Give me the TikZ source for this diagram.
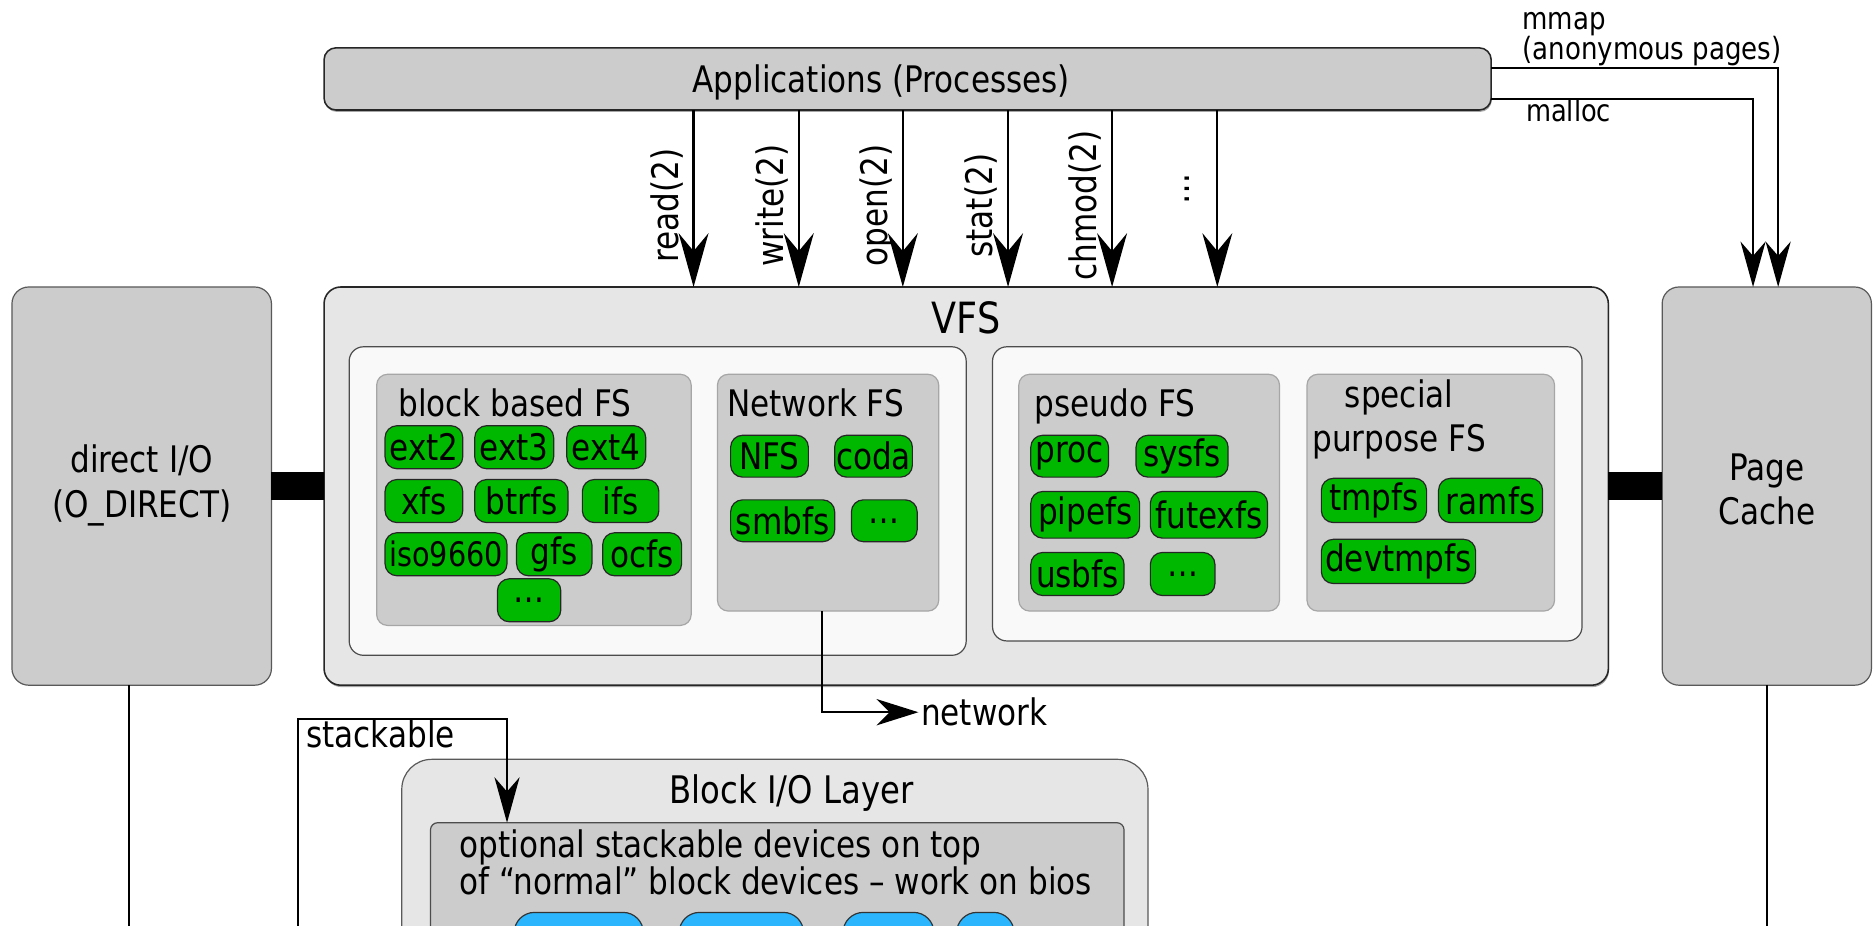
\documentclass[tikz,border=0pt]{standalone}
\usepackage{fontspec}
\setmainfont{DejaVu Sans}[FakeStretch=0.85]
\usetikzlibrary{arrows.meta,shadows}
\definecolor{boxgray}{HTML}{CCCCCC}
\definecolor{vfsgray}{HTML}{E6E6E6}
\definecolor{lightbg}{HTML}{F9F9F9}
\definecolor{fsgreen}{RGB}{0,184,0}
\definecolor{devblue}{RGB}{42,181,252}
\newcommand{\fsz}[2]{\fontsize{\dimexpr #1pt*20/17\relax}{#2pt}\selectfont}
\tikzset{
  basebox/.style={inner sep=0pt, outer sep=0pt},
  softshadow/.style={drop shadow={shadow xshift=0.6pt, shadow yshift=-1.6pt, fill=black, opacity=0.35}},
  graybox/.style={basebox, draw=black!65, fill=boxgray, rounded corners=14pt, line width=1pt},
  layerbox/.style={basebox, draw=black!85, fill=vfsgray, rounded corners=14pt, line width=1.3pt},
  lightbox/.style={basebox, draw=black!70, fill=lightbg, rounded corners=12pt, line width=1pt},
  subbox/.style={basebox, draw=black!35, fill=boxgray, rounded corners=9pt, line width=1pt},
  fsnode/.style={basebox, draw=black!85, fill=fsgreen, rounded corners=10pt, line width=1pt, minimum height=36pt, font=\fsz{26}{30}},
  devnode/.style={basebox, draw=black!80, fill=devblue, rounded corners=17pt, line width=1pt, minimum height=70pt},
  txt/.style={inner sep=0pt, font=\fsz{26}{30}},
  syscall/.style={-{Stealth[length=45pt,width=25pt,inset=15pt]}, line width=1.8pt},
  conn/.style={-{Stealth[length=38pt,width=21pt,inset=12pt]}, line width=1.8pt},
  netconn/.style={-{Stealth[length=35pt,width=22pt,inset=11pt]}, line width=1.8pt},
  thinline/.style={line width=1.8pt},
  thickbar/.style={line width=24pt},
}
\begin{document}
\begin{tikzpicture}[x=1pt,y=-1pt]
\fill[white] (0,0) rectangle (1568,774);
\useasboundingbox (0,0) rectangle (1568,774);
\clip (0,0) rectangle (1568,774);

% top: applications
\node[graybox, softshadow, draw=black!85, line width=1.3pt, rounded corners=10pt, minimum width=976pt, minimum height=52pt] (apps) at (759,66) {};
\node[txt, anchor=base] (appst) at (737,77) {Applications (Processes)};

% side boxes
\node[graybox, minimum width=217pt, minimum height=333pt] (dio) at (118.5,406.5) {};
\node[txt, align=center, font=\fsz{26}{37}] (diot) at (118.5,406) {direct I/O\\(O\_DIRECT)};
\node[graybox, minimum width=175pt, minimum height=333pt] (pc) at (1477.5,406.5) {};
\node[txt, align=center, font=\fsz{26}{37}] (pct) at (1477.5,409) {Page\\Cache};

% VFS
\node[layerbox, softshadow, minimum width=1074pt, minimum height=333pt] (vfs) at (808,406.5) {};
\node[txt, anchor=base, font=\fsz{30.6}{34}] (vfst) at (808,279) {VFS};
\node[lightbox, minimum width=516pt, minimum height=258pt] (lbox) at (550,419) {};
\node[lightbox, minimum width=493pt, minimum height=246pt] (rbox) at (1076.5,413) {};

% block based FS
\node[subbox, minimum width=263pt, minimum height=210pt] (bbfs) at (446.5,418) {};
\node[txt, anchor=base west] (bbfst) at (333,348) {block based FS};
\node[fsnode, minimum width=65pt] (ext2) at (354.5,374) {ext2};
\node[fsnode, minimum width=66pt] (ext3) at (430,374) {ext3};
\node[fsnode, minimum width=66pt] (ext4) at (507,374) {ext4};
\node[fsnode, minimum width=65pt] (xfs) at (354.5,419) {xfs};
\node[fsnode, minimum width=78pt] (btrfs) at (436,419) {btrfs};
\node[fsnode, minimum width=64pt] (ifs) at (519,419) {ifs};
\node[fsnode, minimum width=102pt, font=\fsz{24}{28}] (iso) at (373,463.5) {iso9660};
\node[fsnode, minimum width=63pt] (gfs) at (463.5,463.5) {gfs};
\node[fsnode, minimum width=66pt] (ocfs) at (537,463.5) {ocfs};
\node[fsnode, minimum width=53pt] (bdots) at (442.5,502) {…};

% network FS
\node[subbox, minimum width=185pt, minimum height=198pt] (nfsb) at (692.5,412) {};
\node[txt, anchor=base west] (nfsbt) at (608,348) {Network FS};
\node[fsnode, minimum width=65pt, minimum height=35pt] (nfs) at (643.5,381.5) {NFS};
\node[fsnode, minimum width=65pt, minimum height=35pt] (coda) at (730.5,381.5) {coda};
\node[fsnode, minimum width=87pt, minimum height=35pt] (smbfs) at (654.5,435.5) {smbfs};
\node[fsnode, minimum width=55pt, minimum height=35pt] (ndots) at (739.5,435.5) {…};

% pseudo FS
\node[subbox, minimum width=218pt, minimum height=198pt] (pfs) at (961,412) {};
\node[txt, anchor=base west] (pfst) at (865,348) {pseudo FS};
\node[fsnode, minimum width=65pt, minimum height=35pt] (proc) at (894.5,381.5) {proc};
\node[fsnode, minimum width=77pt, minimum height=35pt] (sysfs) at (988.5,381.5) {sysfs};
\node[fsnode, minimum width=91pt, minimum height=39pt] (pipefs) at (907.5,430.5) {pipefs};
\node[fsnode, minimum width=98pt, minimum height=39pt] (futexfs) at (1011,430.5) {futexfs};
\node[fsnode, minimum width=78pt] (usbfs) at (901,480) {usbfs};
\node[fsnode, minimum width=54pt] (pdots) at (989,480) {…};

% special purpose FS
\node[subbox, minimum width=207pt, minimum height=198pt] (spfs) at (1196.5,412) {};
\node[txt, align=center, font=\fsz{26}{37}] (spfst) at (1170,351) {special\\purpose FS};
\node[fsnode, minimum width=88pt, minimum height=37pt] (tmpfs) at (1149,418.5) {tmpfs};
\node[fsnode, minimum width=87pt, minimum height=37pt] (ramfs) at (1246.5,418.5) {ramfs};
\node[fsnode, minimum width=129pt, minimum height=37pt] (devtmpfs) at (1169.5,469.5) {devtmpfs};

% block I/O layer
\node[layerbox, line width=1pt, draw=black!65, rounded corners=25pt, minimum width=624pt, minimum height=200pt] (blk) at (648,735) {};
\node[txt, anchor=base, font=\fsz{27}{30}] (blkt) at (662,672) {Block I/O Layer};
\node[subbox, draw=black!70, rounded corners=6pt, minimum width=580pt, minimum height=150pt] (blkin) at (650,763) {};
\node[txt, anchor=north west, align=left, font=\fsz{26}{27}] (blkint) at (384,694) {optional stackable devices on top\\of “normal” block devices – work on bios};
\node[devnode, minimum width=108pt] (dev1) at (484,798) {};
\node[devnode, minimum width=104pt] (dev2) at (620,798) {};
\node[devnode, minimum width=76pt] (dev3) at (743,798) {};
\node[devnode, minimum width=48pt] (dev4) at (824,798) {};

% thick bars
\draw[thickbar] (dio.east) -- (vfs.west);
\draw[thickbar] (vfs.east) -- (pc.west);

% syscalls
\foreach \x/\lab/\n in {580/read(2)/1, 668/write(2)/2, 755/open(2)/3, 843/stat(2)/4, 930/chmod(2)/5, 1018/{}/6}{
  \coordinate (sc\n) at (\x,0);
  \draw[syscall] (apps.south -| sc\n) -- (vfs.north -| sc\n);
  \node[txt, rotate=90, anchor=base] (scl\n) at (\x-13,172) {\lab};
}
\node[txt, rotate=90, anchor=base] (scdots) at (995,158) {…};

% mmap / malloc
\draw[conn] ([yshift=9pt]apps.east) -| ([xshift=9.5pt]pc.north);
\draw[conn] ([yshift=-17pt]apps.east) -| ([xshift=-11.5pt]pc.north);
\node[txt, anchor=north west, align=left, font=\fsz{21.8}{25}] (mmapt) at (1273,10) {mmap\\(anonymous pages)};
\node[txt, anchor=base west, font=\fsz{21.5}{25}] (malloct) at (1276,102) {malloc};

% network
\node[txt, anchor=base west, inner sep=2pt] (net) at (768,607) {network};
\coordinate (netx) at (687.5,0);
\draw[netconn] (nfsb.south -| netx) |- (net.west);

% stackable
\coordinate (stkstart) at (249,780);
\coordinate (stkturn) at (424,601);
\draw[conn] (stkstart) |- (stkturn) -- (blkin.north -| stkturn);
\node[txt, anchor=base west] (stkt) at (256,625) {stackable};

% down lines
\coordinate (dioend) at (108,780);
\draw[thinline] (dio.south -| dioend) -- (dioend);
\coordinate (pcend) at (1477.5,780);
\draw[thinline] (pc.south) -- (pcend);
\end{tikzpicture}
\end{document}
